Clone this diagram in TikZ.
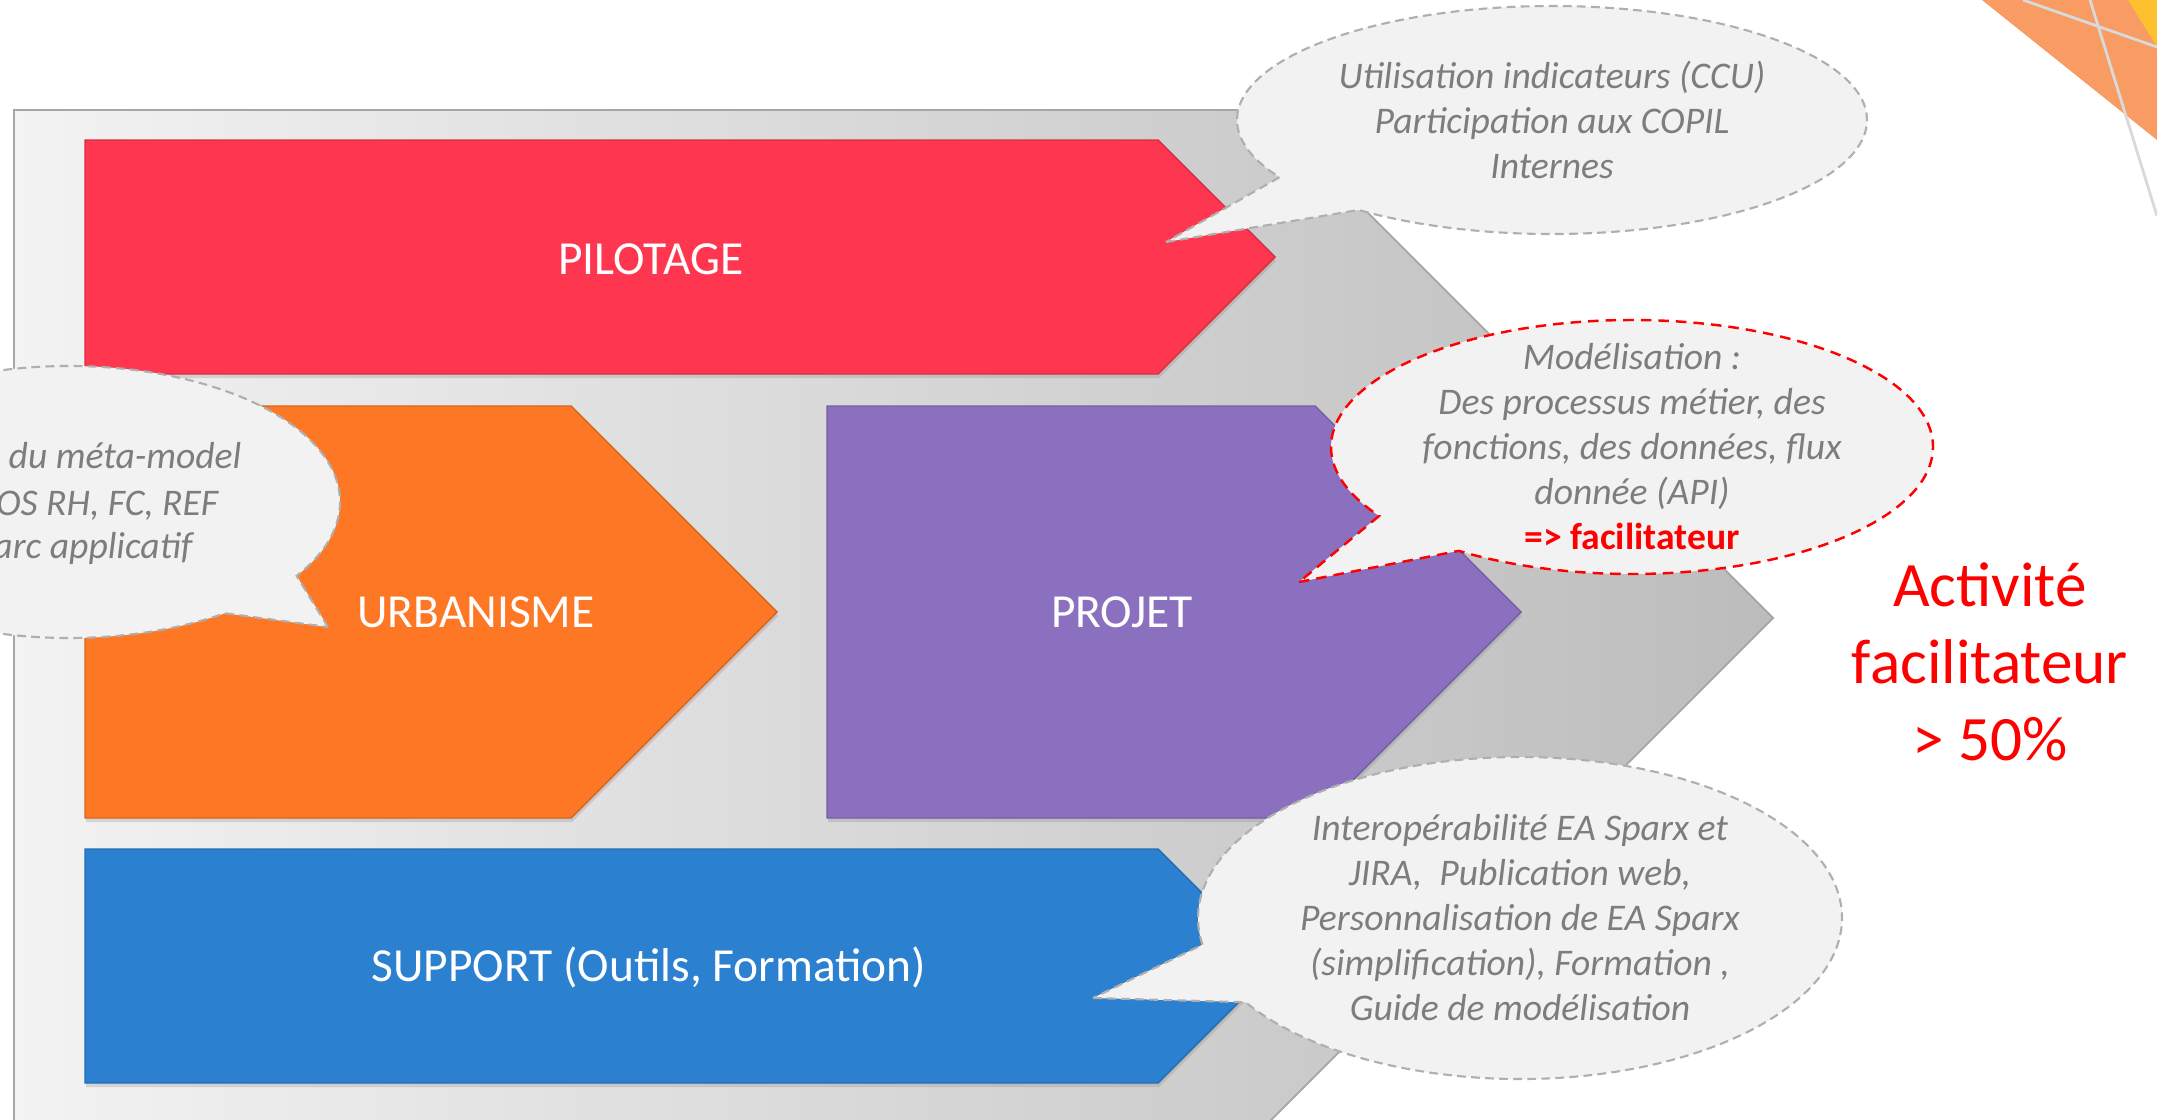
\documentclass[tikz,border=0pt]{standalone}
\usepackage{fontspec}
\setmainfont{Carlito}
\usepackage{xcolor}
\usepackage{tikz}
\usetikzlibrary{positioning,shapes.callouts,shadows}
\definecolor{pilotcolor}{RGB}{255,54,79}
\definecolor{urbacolor}{RGB}{253,119,36}
\definecolor{projcolor}{RGB}{139,112,192}
\definecolor{suppcolor}{RGB}{43,128,208}
\definecolor{bubblecolor}{RGB}{242,242,242}
\definecolor{bubbleline}{RGB}{175,175,175}
\definecolor{notecolor}{RGB}{125,125,125}
\definecolor{bglight}{RGB}{243,243,243}
\definecolor{bgdark}{RGB}{188,188,188}
\definecolor{cornerorange}{RGB}{248,156,100}
\definecolor{corneryellow}{RGB}{253,193,48}

\tikzset{
  block/.style={draw=#1!85!black, fill=#1, line width=0.4pt,
    drop shadow={shadow xshift=0.01cm, shadow yshift=-0.04cm, opacity=0.25}},
  blocklabel/.style={text=white, font=\fontsize{13.5}{16}\selectfont},
  bubble/.style={ellipse callout, fill=bubblecolor, draw=bubbleline, line width=0.6pt,
    dash pattern=on 2.5pt off 1.5pt, callout pointer arc=22, inner sep=0pt},
  note/.style={text=notecolor, font=\fontsize{10.7}{12.8}\selectfont\itshape, align=center}
}

\begin{document}
\begin{tikzpicture}
  \useasboundingbox (0,0) rectangle (21.57,11.19);
  \clip (0,0) rectangle (21.57,11.19);
  \fill[white] (0,0) rectangle (21.57,11.19);

  % Background arrow
  \path[draw=gray!70, line width=0.5pt, left color=bglight, right color=bgdark]
    (0.14,-0.2) -- (0.14,10.09) -- (12.65,10.09) -- (17.73,5.01) -- (12.52,-0.2) -- cycle;

  % Blocks
  \filldraw[block=pilotcolor] (0.85,7.45) -- (0.85,9.79) -- (11.58,9.79) -- (12.75,8.62) -- (11.58,7.45) -- cycle;
  \filldraw[block=urbacolor] (0.85,3.01) -- (0.85,7.13) -- (5.71,7.13) -- (7.77,5.07) -- (5.71,3.01) -- cycle;
  \filldraw[block=projcolor] (8.27,3.01) -- (8.27,7.13) -- (13.15,7.13) -- (15.21,5.07) -- (13.15,3.01) -- cycle;
  \filldraw[block=suppcolor] (0.85,0.36) -- (0.85,2.70) -- (11.58,2.70) -- (12.75,1.53) -- (11.58,0.36) -- cycle;

  % Labels
  \node[blocklabel] (pilot) at (6.51,8.60) {PILOTAGE};
  \node[blocklabel] (urba) at (4.76,5.07) {URBANISME};
  \node[blocklabel] (proj) at (11.22,5.07) {PROJET};
  \node[blocklabel] (supp) at (6.49,1.52) {SUPPORT (Outils, Formation)};

  % Bubbles
  \coordinate (tip-pilot) at (11.66,8.77);
  \coordinate (tip-urba) at (3.28,4.92);
  \coordinate (tip-proj) at (12.99,5.37);
  \coordinate (tip-supp) at (10.93,1.21);

  \node[bubble, minimum width=6.30cm, minimum height=2.28cm,
    callout absolute pointer={(tip-pilot)}] (b-pilot) at (15.52,9.99) {};
  \node[note] (n-pilot) at (b-pilot.center) {Utilisation indicateurs (CCU)\\Participation aux COPIL\\Internes};

  \node[bubble, minimum width=5.42cm, minimum height=2.72cm,
    callout absolute pointer={(tip-urba)}] (b-urba) at (0.69,6.17) {};
  \node[note, inner sep=0pt, anchor=base east] (n-urba1) at (2.42,6.51) {e du méta-model};
  \node[note, inner sep=0pt, anchor=base east] (n-urba2) at (2.19,6.04) {OS RH, FC, REF};
  \node[note, inner sep=0pt, anchor=base east] (n-urba3) at (1.93,5.61) {arc applicatif};

  \node[bubble, draw=red, line width=0.7pt, dash pattern=on 3pt off 2pt, minimum width=6.02cm, minimum height=2.54cm,
    callout absolute pointer={(tip-proj)}] (b-proj) at (16.32,6.72) {};
  \node[note] (n-proj) at (b-proj.center) {Modélisation :\\Des processus métier, des\\fonctions, des données, flux\\donnée (API)\\{\color{red}\upshape\bfseries => facilitateur}};

  \node[bubble, minimum width=6.44cm, minimum height=3.22cm,
    callout absolute pointer={(tip-supp)}] (b-supp) at (15.20,2.01) {};
  \node[note] (n-supp) at (b-supp.center) {Interopérabilité EA Sparx et\\JIRA,~ Publication web,\\Personnalisation de EA Sparx\\(simplification), Formation ,\\Guide de modélisation};

  % Activity share
  \node[align=center, text=red, font=\fontsize{18}{21.9}\selectfont] (share) at (19.90,4.57) {Activité\\facilitateur\\> 50\%};

  % Corner
  \fill[cornerorange] (19.82,11.19) -- (21.57,11.19) -- (21.57,9.79) -- cycle;
  \fill[corneryellow] (21.28,11.19) -- (21.57,11.19) -- (21.57,10.72) -- cycle;
  \draw[gray!30, line width=0.8pt] (20.23,11.19) -- (21.57,10.72);
  \draw[gray!30, line width=0.8pt] (20.90,11.19) -- (21.57,9.03);
\end{tikzpicture}
\end{document}
